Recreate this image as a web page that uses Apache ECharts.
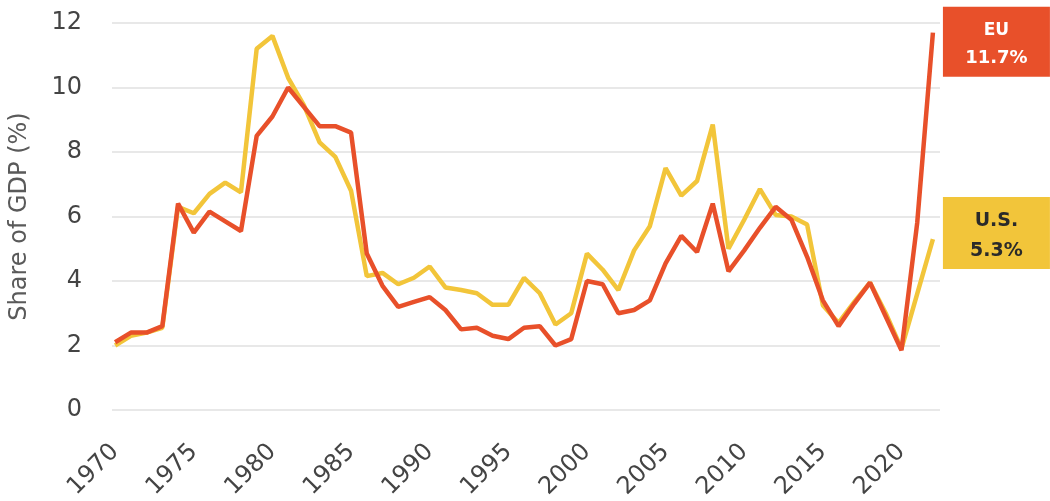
<!DOCTYPE html>
<html>
<head>
<meta charset="utf-8">
<script src="https://cdn.jsdelivr.net/npm/echarts@6/dist/echarts.min.js"></script>
<style>
  html, body { margin: 0; background: #fff; }
  #chart { width: 1050px; height: 501px; }
</style>
</head>
<body>
<div id="chart"></div>
<script>
// years on the x axis
const years = [
  1970, 1971, 1972, 1973, 1974, 1975, 1976, 1977, 1978, 1979,
  1980, 1981, 1982, 1983, 1984, 1985, 1986, 1987, 1988, 1989,
  1990, 1991, 1992, 1993, 1994, 1995, 1996, 1997, 1998, 1999,
  2000, 2001, 2002, 2003, 2004, 2005, 2006, 2007, 2008, 2009,
  2010, 2011, 2012, 2013, 2014, 2015, 2016, 2017, 2018, 2019,
  2020, 2021, 2022
];

// share of GDP (%)
const euShare = [
  2.1, 2.4, 2.4, 2.6, 6.4, 5.5, 6.15, 5.85, 5.55, 8.5,
  9.1, 10.0, 9.4, 8.8, 8.8, 8.6, 4.85, 3.85, 3.2, 3.35,
  3.5, 3.1, 2.5, 2.55, 2.3, 2.2, 2.55, 2.6, 2.0, 2.2,
  4.0, 3.9, 3.0, 3.1, 3.4, 4.55, 5.4, 4.9, 6.4, 4.3,
  4.95, 5.65, 6.3, 5.9, 4.75, 3.4, 2.6, 3.3, 3.95, 2.9,
  1.85, 5.8, 11.7
];
const usShare = [
  2.0, 2.3, 2.4, 2.55, 6.3, 6.1, 6.7, 7.05, 6.75, 11.2,
  11.6, 10.3, 9.45, 8.3, 7.85, 6.8, 4.15, 4.25, 3.9, 4.1,
  4.45, 3.8, 3.72, 3.62, 3.26, 3.26, 4.1, 3.62, 2.65, 3.0,
  4.85, 4.35, 3.72, 4.95, 5.7, 7.5, 6.65, 7.1, 8.85, 5.0,
  5.9, 6.85, 6.05, 6.0, 5.75, 3.25, 2.7, 3.35, 3.95, 3.0,
  1.9, 3.6, 5.3
];

// labelled years on the x axis
const xTickYears = [1970, 1975, 1980, 1985, 1990, 1995, 2000, 2005, 2010, 2015, 2020];

const euColor = '#E8502A';
const usColor = '#F2C53A';
const font = 'DejaVu Sans';

function pairs(vals) {
  return years.map((y, i) => [y, vals[i]]);
}

const myChart = echarts.init(document.getElementById('chart'));
const option = {
  animation: false,
  textStyle: { fontFamily: font },
  grid: {
    left: 112,
    right: 110,
    top: 23,
    bottom: 91,
    outerBoundsMode: 'none',
  },
  xAxis: {
    type: 'value',
    min: 1969.8,
    max: 2022.45,
    axisLine: { show: false },
    axisTick: { show: false },
    splitLine: { show: false },
    axisLabel: {
      customValues: xTickYears,
      formatter: v => String(v),
      rotate: 45,
      margin: 38,
      fontSize: 24,
      color: '#444',
      fontFamily: font,
    },
  },
  yAxis: {
    type: 'value',
    min: 0,
    max: 12,
    interval: 2,
    name: 'Share of GDP (%)',
    nameLocation: 'middle',
    nameRotate: 90,
    nameGap: 80,
    nameTextStyle: { fontSize: 24, color: '#5a5a5a', fontFamily: font },
    axisLine: { show: false },
    axisTick: { show: false },
    axisLabel: { margin: 30, fontSize: 24, color: '#444', fontFamily: font },
    splitLine: { lineStyle: { color: '#e8e8e8', width: 2 } },
  },
  series: [
    {
      name: 'U.S.',
      type: 'line',
      data: pairs(usShare),
      showSymbol: false,
      lineStyle: { color: usColor, width: 4.5 },
      itemStyle: { color: usColor },
      endLabel: {
        show: true,
        distance: 10,
        offset: [0, -6],
        width: 107,
        padding: [9, 0, 3, 0],
        backgroundColor: usColor,
        formatter: p => '{n|U.S.}\n{v|' + p.value[1] + '%}',
        rich: {
          n: { color: '#2a2a2a', fontWeight: 'bold', fontSize: 19, lineHeight: 30, align: 'center', fontFamily: font },
          v: { color: '#2a2a2a', fontWeight: 'bold', fontSize: 19, lineHeight: 30, align: 'center', fontFamily: font },
        },
      },
    },
    {
      name: 'EU',
      type: 'line',
      data: pairs(euShare),
      showSymbol: false,
      lineStyle: { color: euColor, width: 4.5 },
      itemStyle: { color: euColor },
      endLabel: {
        show: true,
        distance: 10,
        offset: [0, 9],
        width: 107,
        padding: [10, 0, 4, 0],
        backgroundColor: euColor,
        formatter: p => '{n|EU}\n{v|' + p.value[1] + '%}',
        rich: {
          n: { color: '#fff', fontWeight: 'bold', fontSize: 17, lineHeight: 28, align: 'center', fontFamily: font },
          v: { color: '#fff', fontWeight: 'bold', fontSize: 18, lineHeight: 28, align: 'center', fontFamily: font },
        },
      },
    },
  ],
};

option && myChart.setOption(option);
</script>
</body>
</html>
